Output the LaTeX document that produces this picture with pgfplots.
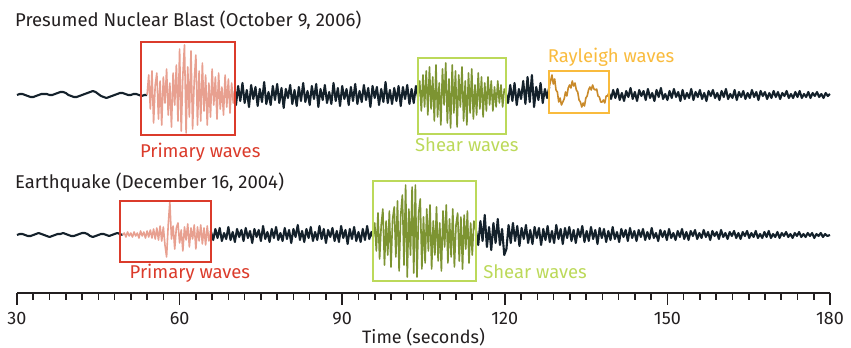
\documentclass[border=0pt]{standalone}
\usepackage{pgfplots}
\pgfplotsset{compat=1.18}
\usepackage{fontspec}
\setmainfont{Fira Sans}
\definecolor{trace}{HTML}{14212B}
\definecolor{pbox}{HTML}{DB3B2B}
\definecolor{ptrace}{HTML}{E8A090}
\definecolor{sbox}{HTML}{BCD95A}
\definecolor{strace}{HTML}{7D9432}
\definecolor{rbox}{HTML}{F9BB3D}
\definecolor{rtrace}{HTML}{C98A2A}
\definecolor{txt}{HTML}{231F20}
\begin{document}
\begin{tikzpicture}
\begin{axis}[
  x=5.42pt, y=1pt,
  xmin=30, xmax=180, ymin=-293, ymax=0,
  axis x line*=bottom, axis y line=none,
  axis line style={line width=2pt, color=txt},
  xtick={30,60,...,180}, minor x tick num=9,
  tick align=outside, xtick pos=bottom,
  major tick length=12pt, minor tick length=7pt,
  every tick/.style={line width=1.6pt, color=txt},
  /pgf/number format/assume math mode=true,
  xticklabel style={font=\fontsize{18}{20}\selectfont, text=txt, yshift=-4pt},
  xlabel={Time (seconds)},
  xlabel style={font=\fontsize{18}{20}\selectfont, text=txt, at={(axis description cs:0.5,0)}, anchor=center, yshift=-44pt},
  clip=false,
  top/.style={y filter/.expression={y-95}},
  bot/.style={y filter/.expression={y-235}},
  tr/.style={line width=2.1pt, line join=round},
  tc/.style={line width=1.6pt, line join=round},
]
% ---------------- top trace ----------------
\addplot[trace, tr, top] coordinates {(30,0)(30.5,1)(31,1)(31.5,0)(32,-1)(32.5,-2)(33,-2)(33.5,-1)(34,0)(34.5,1)(35,1)(35.5,1)(36,0)(36.5,0)(37,1)(37.5,2)(38,3)(38.5,3)(39,2)(39.5,0)(40,-1)(40.5,-2)(41,-2)(41.5,-1)(42,0)(42.5,1)(43,2)(43.5,3)(44,4)(44.5,3)(45,1)(45.5,-1)(46,-2)(46.5,-3)(47,-2)(47.5,-1)(48,0)(48.5,1)(49,2)(49.5,2)(50,1)(50.5,0)(51,0)(51.5,1)(52,1)(52.5,0)(53,-1)(53.5,0)(54,0)};
\addplot[ptrace, tc, top] coordinates {(54,0)(54.3,20)(54.6,-14)(54.9,24)(55.2,-28)(55.5,10)(55.8,22)(56.1,-24)(56.4,14)(56.7,-30)(57,18)(57.3,-8)(57.6,26)(57.9,-20)(58.2,12)(58.5,-32)(58.8,22)(59.1,-10)(59.4,30)(59.7,-26)(60,46)(60.3,-36)(60.6,20)(60.9,50)(61.2,-38)(61.5,28)(61.8,-22)(62.1,44)(62.4,-34)(62.7,14)(63,40)(63.3,-30)(63.6,24)(63.9,-26)(64.2,32)(64.5,-16)(64.8,20)(65.1,-30)(65.4,12)(65.7,-22)(66,26)(66.3,-10)(66.6,18)(66.9,-24)(67.2,22)(67.5,-14)(67.8,8)(68.1,-20)(68.4,20)(68.7,-12)(69,16)(69.3,-18)(69.6,12)(69.9,-8)(70.2,4)};
\addplot[trace, tr, top] coordinates {(70.2,4)(70.4,-10)(70.8,9)(71.2,-6)(71.6,12)(72,-8)(72.4,5)(72.8,-12)(73.2,10)(73.6,-4)(74,8)(74.4,-11)(74.8,6)(75.2,-7)(75.6,13)(76,-9)(76.4,3)(76.8,-10)(77.2,9)(77.6,-5)(78,11)(78.4,-8)(78.8,7)(79.2,-13)(79.6,6)(80,-3)(80.4,10)(80.8,-9)(81.2,5)(81.6,-11)(82,8)(82.4,-6)(82.8,12)(83.2,-7)(83.6,4)(84,-10)(84.4,9)(84.8,-4)(85.2,11)(85.6,-12)(86,6)(86.4,-5)(86.8,10)(87.2,-8)(87.6,3)(88,-9)(88.4,12)(88.8,-6)(89.2,7)(89.6,-11)(90,9)(90.4,-4)(90.8,6)(91.2,-10)(91.6,8)(92,-6)(92.4,11)(92.8,-9)(93.2,4)(93.6,-7)(94,10)(94.4,-5)(94.8,7)(95.2,-12)(95.6,9)(96,-3)(96.4,8)(96.8,-10)(97.2,6)(97.6,-7)(98,13)(98.4,-8)(98.8,5)(99.2,-9)(99.6,7)(100,-6)(100.4,9)(100.8,-11)(101.2,8)(101.6,-4)(102,10)(102.4,-9)(102.8,6)(103.2,-8)(103.6,9)(104,-2)};
\addplot[strace, tc, top] coordinates {(104,-2)(104.3,14)(104.6,-16)(104.9,20)(105.2,-12)(105.5,24)(105.8,-20)(106.1,28)(106.4,-14)(106.7,18)(107,-26)(107.3,30)(107.6,-22)(107.9,12)(108.2,-30)(108.5,26)(108.8,-10)(109.1,32)(109.4,-28)(109.7,16)(110,-33)(110.3,30)(110.6,-18)(110.9,24)(111.2,-32)(111.5,20)(111.8,-12)(112.1,28)(112.4,-26)(112.7,14)(113,-30)(113.3,22)(113.6,-18)(113.9,26)(114.2,-24)(114.5,10)(114.8,-20)(115.1,22)(115.4,-14)(115.7,18)(116,-22)(116.3,12)(116.6,-16)(116.9,18)(117.2,-10)(117.5,14)(117.8,-16)(118.1,8)(118.4,-12)(118.7,14)(119,-8)(119.3,10)(119.6,-12)(119.9,6)(120.2,2)};
\addplot[trace, tr, top] coordinates {(120.2,2)(120.6,-8)(121,10)(121.4,-6)(121.8,12)(122.2,-10)(122.6,6)(123,-4)(123.4,14)(123.8,-9)(124.2,18)(124.6,-7)(125,20)(125.4,-12)(125.8,8)(126.2,-5)(126.6,12)(127,-8)(127.4,6)(127.8,-3)(128.2,8)};
\addplot[rtrace, tc, top] coordinates {(128.2,8)(128.45,14)(128.7,20)(128.95,11)(129.2,16)(129.45,5)(129.7,3)(129.95,-7)(130.2,-3)(130.45,-10)(130.7,-7)(130.95,-4)(131.2,3)(131.45,-1)(131.7,7)(131.95,10)(132.2,7)(132.45,14)(132.7,9)(132.95,12)(133.2,5)(133.45,3)(133.7,-5)(133.95,-7)(134.2,-12)(134.45,-8)(134.7,-11)(134.95,-3)(135.2,-1)(135.45,5)(135.7,8)(135.95,5)(136.2,10)(136.45,6)(136.7,5)(136.95,6)(137.2,-1)(137.45,-2)(137.7,-7)(137.95,-7)(138.2,-5)(138.45,-8)(138.7,-1)(138.95,-1)(139.2,2)};
\addplot[trace, tr, top] coordinates {(139.2,2)(139.6,-4)(140,5)(140.4,-3)(140.8,6)(141.2,-5)(141.6,2)(142,-6)(142.4,4)(142.8,-2)(143.2,7)(143.6,-4)(144,3)(144.4,-6)(144.8,5)(145.2,-1)(145.6,4)(146,-5)(146.4,6)(146.8,-3)(147.2,2)(147.6,-6)(148,5)(148.4,-2)(148.8,7)(149.2,-4)(149.6,1)(150,-5)(150.4,4)(150.8,-3)(151.2,6)(151.6,-2)(152,3)(152.4,-6)(152.8,5)(153.2,-4)(153.6,2)(154,-3)(154.4,6)(154.8,-5)(155.2,3)(155.6,-2)(156,5)(156.4,-4)(156.8,2)(157.2,-6)(157.6,4)(158,-1)(158.4,5)(158.8,-3)(159.2,2)(159.6,-5)(160,4)(160.4,-2)(160.8,6)(161.2,-4)(161.6,1)(162,-3)(162.4,5)(162.8,-5)(163.2,3)(163.6,-2)(164,4)(164.4,-4)(164.8,2)(165.2,-3)(165.6,5)(166,-2)(166.4,3)(166.8,-5)(167.2,4)(167.6,-1)(168,3)(168.4,-4)(168.8,2)(169.2,-3)(169.6,4)(170,-2)(170.4,3)(170.8,-4)(171.2,2)(171.6,-1)(172,4)(172.4,-3)(172.8,1)(173.2,-3)(173.6,3)(174,-2)(174.4,4)(174.8,-3)(175.2,1)(175.6,-2)(176,3)(176.4,-3)(176.8,2)(177.2,-1)(177.6,3)(178,-2)(178.4,1)(178.8,-3)(179.2,2)(179.6,-1)(180,1)};
% ---------------- bottom trace ----------------
\addplot[trace, tr, bot] coordinates {(30,0)(30.5,1)(31,1)(31.5,0)(32,-1)(32.5,-1)(33,0)(33.5,1)(34,2)(34.5,1)(35,0)(35.5,-1)(36,-2)(36.5,-1)(37,0)(37.5,1)(38,1)(38.5,2)(39,1)(39.5,0)(40,-1)(40.5,-1)(41,0)(41.5,1)(42,2)(42.5,2)(43,1)(43.5,-1)(44,-2)(44.5,-1)(45,0)(45.5,1)(46,1)(46.5,0)(47,-1)(47.5,0)(48,1)(48.5,2)(49,1)(49.5,0)};
\addplot[ptrace, tc, bot] coordinates {(49.5,0)(49.8,2)(50.1,-2)(50.4,3)(50.7,-1)(51,2)(51.3,-2)(51.6,3)(51.9,-1)(52.2,2)(52.5,-3)(52.8,4)(53.1,-1)(53.4,3)(53.7,-3)(54,4)(54.3,-2)(54.6,5)(54.9,-3)(55.2,6)(55.5,-4)(55.8,7)(56.1,-5)(56.4,9)(56.7,-6)(57,8)(57.3,-10)(57.6,-22)(57.9,10)(58.2,33)(58.5,-4)(58.8,9)(59.1,-14)(59.4,7)(59.7,12)(60,-8)(60.3,5)(60.6,-16)(60.9,8)(61.2,-5)(61.5,11)(61.8,-12)(62.1,7)(62.4,-4)(62.7,10)(63,-14)(63.3,8)(63.6,-6)(63.9,10)(64.2,-9)(64.5,7)(64.8,-10)(65.1,9)(65.4,-6)(65.75,4)};
\addplot[trace, tr, bot] coordinates {(65.75,4)(66.2,-5)(66.6,6)(67,-3)(67.4,7)(67.8,-6)(68.2,2)(68.6,-4)(69,8)(69.4,-5)(69.8,3)(70.2,-7)(70.6,6)(71,-2)(71.4,5)(71.8,-6)(72.2,7)(72.6,-3)(73,4)(73.4,-8)(73.8,6)(74.2,-2)(74.6,5)(75,-6)(75.4,9)(75.8,-4)(76.2,3)(76.6,-7)(77,6)(77.4,-3)(77.8,8)(78.2,-5)(78.6,2)(79,-6)(79.4,7)(79.8,-4)(80.2,5)(80.6,-8)(81,6)(81.4,-2)(81.8,10)(82.2,-5)(82.6,4)(83,-7)(83.4,6)(83.8,-3)(84.2,8)(84.6,-6)(85,3)(85.4,-5)(85.8,9)(86.2,-4)(86.6,6)(87,-8)(87.4,5)(87.8,-2)(88.2,7)(88.6,-6)(89,4)(89.4,-7)(89.8,9)(90.2,-3)(90.6,5)(91,-9)(91.4,6)(91.8,-4)(92.2,8)(92.6,-6)(93,3)(93.4,-7)(93.8,6)(94.2,-5)(94.6,9)(95,-4)(95.4,3)(95.7,-2)};
\addplot[strace, tc, bot] coordinates {(95.7,-2)(96,12)(96.3,-16)(96.6,22)(96.9,-24)(97.2,10)(97.5,26)(97.8,-30)(98.1,14)(98.4,-20)(98.7,24)(99,-32)(99.3,16)(99.6,28)(99.9,-22)(100.2,34)(100.5,-36)(100.8,20)(101.1,40)(101.4,-30)(101.7,50)(102,-42)(102.3,26)(102.6,-20)(102.9,48)(103.2,-38)(103.5,50)(103.8,-42)(104.1,22)(104.4,36)(104.7,-34)(105,18)(105.3,-28)(105.6,26)(105.9,-16)(106.2,30)(106.5,-34)(106.8,14)(107.1,-20)(107.4,28)(107.7,-26)(108,12)(108.3,-36)(108.6,24)(108.9,-12)(109.2,30)(109.5,-28)(109.8,16)(110.1,-22)(110.4,26)(110.7,-32)(111,10)(111.3,22)(111.6,-26)(111.9,18)(112.2,-34)(112.5,20)(112.8,-14)(113.1,24)(113.4,-28)(113.7,12)(114,-20)(114.3,14)(114.7,4)};
\addplot[trace, tr, bot] coordinates {(114.7,4)(115.1,-10)(115.5,14)(115.9,-6)(116.3,20)(116.7,-12)(117.1,8)(117.5,-15)(117.9,12)(118.3,-8)(118.7,16)(119.1,-10)(119.5,6)(119.9,-20)(120.3,-14)(120.7,10)(121.1,-8)(121.5,12)(121.9,-6)(122.3,9)(122.7,-11)(123.1,7)(123.5,-4)(123.9,10)(124.3,-8)(124.7,5)(125.1,-9)(125.5,8)(125.9,-3)(126.3,7)(126.7,-10)(127.1,6)(127.5,-5)(127.9,9)(128.3,-7)(128.7,4)(129.1,-8)(129.5,10)(129.9,-4)(130.3,6)(130.7,-9)(131.1,7)(131.5,-3)(131.9,8)(132.3,-6)(132.7,5)(133.1,-8)(133.5,6)(133.9,-2)(134.3,9)(134.7,-7)(135.1,4)(135.5,-6)(135.9,8)(136.3,-4)(136.7,5)(137.1,-9)(137.5,7)(137.9,-3)(138.3,6)(138.7,-7)(139.1,4)(139.5,-5)(139.9,8)(140.3,-4)(140.7,3)(141.1,-7)(141.5,6)(141.9,-2)(142.3,5)(142.7,-6)(143.1,7)(143.5,-3)(143.9,4)(144.3,-6)(144.7,5)(145.1,-2)(145.5,6)(145.9,-5)(146.3,3)(146.7,-4)(147.1,7)(147.5,-3)(147.9,2)(148.3,-6)(148.7,5)(149.1,-2)(149.5,4)(149.9,-5)(150.3,6)(150.7,-3)(151.1,2)(151.5,-5)(151.9,4)(152.3,-2)(152.7,6)(153.1,-4)(153.5,3)(153.9,-5)(154.3,4)(154.7,-1)(155.1,5)(155.5,-4)(155.9,2)(156.3,-3)(156.7,5)(157.1,-2)(157.5,3)(157.9,-5)(158.3,4)(158.7,-1)(159.1,3)(159.5,-4)(159.9,5)(160.3,-2)(160.7,2)(161.1,-4)(161.5,3)(161.9,-1)(162.3,4)(162.7,-3)(163.1,2)(163.5,-4)(163.9,3)(164.3,-1)(164.7,4)(165.1,-3)(165.5,2)(165.9,-2)(166.3,4)(166.7,-3)(167.1,1)(167.5,-3)(167.9,3)(168.3,-2)(168.7,4)(169.1,-3)(169.5,1)(169.9,-2)(170.3,3)(170.7,-3)(171.1,2)(171.5,-1)(171.9,3)(172.3,-2)(172.7,1)(173.1,-3)(173.5,2)(173.9,-1)(174.3,3)(174.7,-2)(175.1,1)(175.5,-2)(175.9,2)(176.3,-1)(176.7,2)(177.1,-3)(177.5,1)(177.9,-1)(178.3,2)(178.7,-2)(179.1,1)(179.5,-1)(180,0)};
% ---------------- boxes ----------------
\draw[pbox, line width=2pt] (axis cs:52.9,-42) rectangle (axis cs:70.2,-135);
\draw[sbox, line width=2pt] (axis cs:104.0,-58) rectangle (axis cs:120.2,-134);
\draw[rbox, line width=2pt] (axis cs:128.2,-71) rectangle (axis cs:139.2,-113);
\draw[pbox, line width=2pt] (axis cs:49.0,-201) rectangle (axis cs:65.8,-262);
\draw[sbox, line width=2pt] (axis cs:95.7,-181) rectangle (axis cs:114.7,-281);
% ---------------- labels ----------------
\node[font=\fontsize{18.5}{20}\selectfont, text=txt, anchor=west, inner sep=0pt] at (axis cs:29.63,-20) {Presumed Nuclear Blast (October 9, 2006)};
\node[font=\fontsize{18.5}{20}\selectfont, text=txt, anchor=west, inner sep=0pt] at (axis cs:29.63,-183) {Earthquake (December 16, 2004)};
\node[font=\fontsize{18.5}{20}\selectfont, text=pbox] at (axis cs:63.8,-152) {Primary waves};
\node[font=\fontsize{18.5}{20}\selectfont, text=sbox] at (axis cs:113.0,-145) {Shear waves};
\node[font=\fontsize{18.5}{20}\selectfont, text=rbox] at (axis cs:139.6,-57) {Rayleigh waves};
\node[font=\fontsize{18.5}{20}\selectfont, text=pbox] at (axis cs:61.9,-273) {Primary waves};
\node[font=\fontsize{18.5}{20}\selectfont, text=sbox, anchor=west, inner sep=0pt] at (axis cs:116.0,-272) {Shear waves};
\coordinate (bl) at (axis cs:26.863,-348);
\coordinate (tr) at (axis cs:183.875,0);
\end{axis}
\pgfresetboundingbox
\path[use as bounding box] (bl) rectangle (tr);
\end{tikzpicture}
\end{document}
